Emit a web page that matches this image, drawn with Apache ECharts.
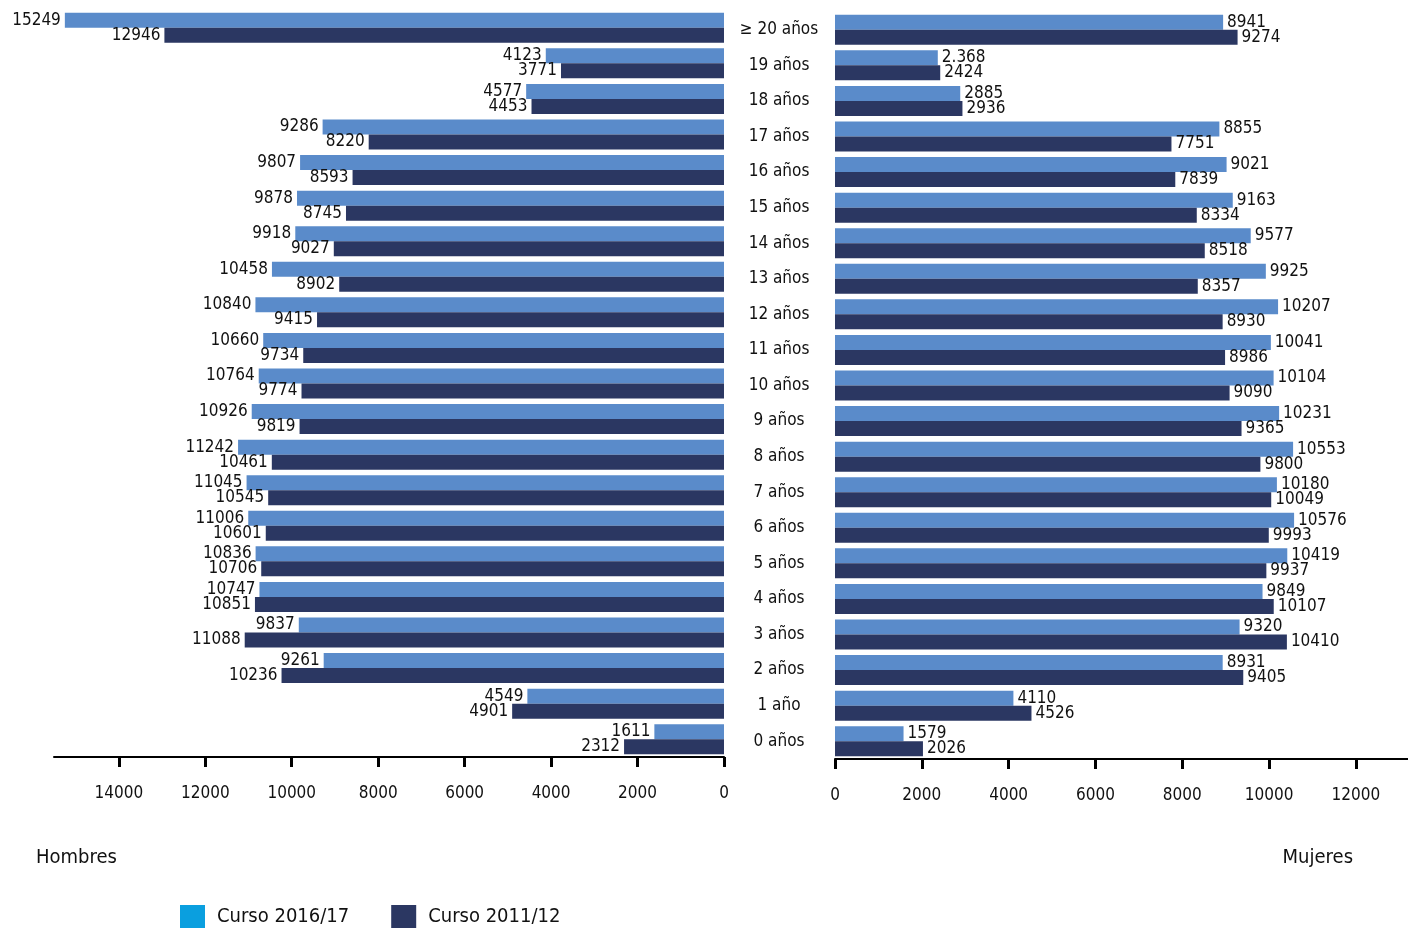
<!DOCTYPE html>
<html><head><meta charset="utf-8">
<script src="https://cdn.jsdelivr.net/npm/echarts@6/dist/echarts.min.js"></script>
<style>html,body{margin:0;padding:0;background:#fff}#c{width:1408px;height:928px}</style>
</head><body><div id="c"></div>
<script>
const categories = ["0 años","1 año","2 años","3 años","4 años","5 años","6 años","7 años","8 años","9 años","10 años","11 años","12 años","13 años","14 años","15 años","16 años","17 años","18 años","19 años","≥ 20 años"];
const hombres2016 = [1611,4549,9261,9837,10747,10836,11006,11045,11242,10926,10764,10660,10840,10458,9918,9878,9807,9286,4577,4123,15249];
const hombres2011 = [2312,4901,10236,11088,10851,10706,10601,10545,10461,9819,9774,9734,9415,8902,9027,8745,8593,8220,4453,3771,12946];
const mujeres2016 = [1579,4110,8931,9320,9849,10419,10576,10180,10553,10231,10104,10041,10207,9925,9577,9163,9021,8855,2885,2368,8941];
const mujeres2011 = [2026,4526,9405,10410,10107,9937,9993,10049,9800,9365,9090,8986,8930,8357,8518,8334,7839,7751,2936,2424,9274];
const mujeres2016LabelText = {19: "2.368"};
const leftTicks = [0,2000,4000,6000,8000,10000,12000,14000];
const rightTicks = [0,2000,4000,6000,8000,10000,12000];
const seriesNames = ["Curso 2016/17","Curso 2011/12"];

const FONT = "'Liberation Sans Narrow','DejaVu Sans Condensed','Arial Narrow',sans-serif";
const LIGHT = '#5a8bca', DARK = '#2b3762', LEGEND_LIGHT = '#0a9fdf';

const chart = echarts.init(document.getElementById('c'));
const lbl = (pos, fmt) => ({show:true, position:pos, distance:4, color:'#111', fontSize:17, fontFamily:FONT, formatter: fmt});
function valAxis(extra, ticks){
  return Object.assign({
    type:'value', splitLine:{show:false},
    axisLine:{show:true, lineStyle:{color:'#000', width:2}},
    axisTick:{show:true, length:10, customValues:ticks, lineStyle:{color:'#000', width:3}},
    axisLabel:{color:'#111', fontSize:17, fontFamily:FONT, margin:28, customValues:ticks, formatter: v => String(v)}
  }, extra);
}
chart.setOption({
  animation:false,
  title:[
    {text:'Hombres', left:31, top:843, textStyle:{fontFamily:FONT, fontSize:20, fontWeight:'normal', color:'#111'}},
    {text:'Mujeres', right:50, top:843, textStyle:{fontFamily:FONT, fontSize:20, fontWeight:'normal', color:'#111'}}
  ],
  legend:{
    left:180, top:905, padding:0, itemWidth:25, itemHeight:23, itemGap:42, icon:'rect',
    textStyle:{fontFamily:FONT, fontSize:20, color:'#111', padding:[5,0,0,7]},
    data:[{name:seriesNames[0], itemStyle:{color:LEGEND_LIGHT}},{name:seriesNames[1], itemStyle:{color:DARK}}]
  },
  grid:[
    {left:54, right:684, top:10, height:747, containLabel:false},
    {left:835, right:0, top:12, height:747, containLabel:false}
  ],
  xAxis:[
    valAxis({gridIndex:0, inverse:true, min:0, max:15500}, leftTicks),
    valAxis({gridIndex:1, min:0, max:13200}, rightTicks)
  ],
  yAxis:[
    {type:'category', gridIndex:0, data:categories, axisLine:{show:false}, axisTick:{show:false}, axisLabel:{show:false}},
    {type:'category', gridIndex:1, data:categories, axisLine:{show:false}, axisTick:{show:false},
      axisLabel:{show:true, align:'center', margin:56, color:'#111', fontSize:17, fontFamily:FONT}}
  ],
  series:[
    {name:seriesNames[0], type:'bar', xAxisIndex:0, yAxisIndex:0, data:hombres2016, barWidth:15, barGap:'0%',
      itemStyle:{color:LIGHT}, label:lbl('left')},
    {name:seriesNames[1], type:'bar', xAxisIndex:0, yAxisIndex:0, data:hombres2011, barWidth:15, barGap:'0%',
      itemStyle:{color:DARK}, label:lbl('left')},
    {name:seriesNames[0], type:'bar', xAxisIndex:1, yAxisIndex:1, data:mujeres2016, barWidth:15, barGap:'0%',
      itemStyle:{color:LIGHT}, label:lbl('right', p => mujeres2016LabelText[p.dataIndex] || String(p.value))},
    {name:seriesNames[1], type:'bar', xAxisIndex:1, yAxisIndex:1, data:mujeres2011, barWidth:15, barGap:'0%',
      itemStyle:{color:DARK}, label:lbl('right')}
  ]
});
</script></body></html>
